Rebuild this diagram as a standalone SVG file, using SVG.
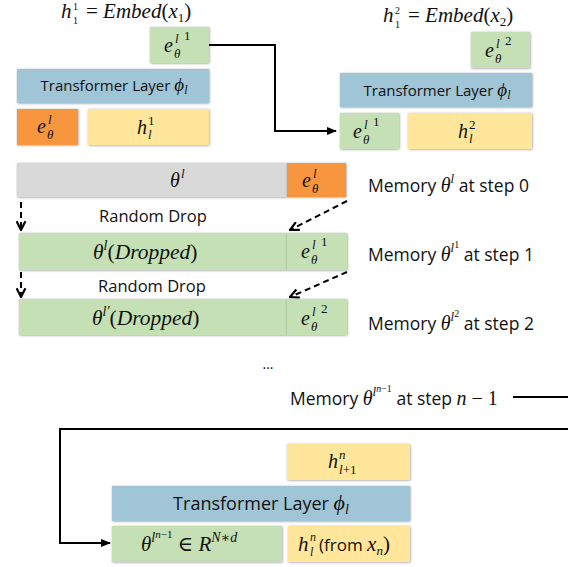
<svg xmlns="http://www.w3.org/2000/svg" width="568" height="567" viewBox="0 0 568 567">
<defs>
<filter id="sh" x="-10%" y="-20%" width="120%" height="140%"><feDropShadow dx="0.5" dy="0.5" stdDeviation="1.2" flood-color="#000" flood-opacity="0.4"/></filter>
<marker id="ah" viewBox="0 0 10 10" refX="9" refY="5" markerWidth="5" markerHeight="5" orient="auto"><path d="M0,1 L10,5 L0,9 z" fill="#000"/></marker>
<marker id="ch" viewBox="0 0 10 10" refX="9" refY="5" markerWidth="5.5" markerHeight="5.5" orient="auto"><path d="M1,1 L9,5 L1,9" fill="none" stroke="#000" stroke-width="2"/></marker>
</defs>
<style>
.bx{filter:url(#sh)}
.g{fill:#c5e0b4}.b{fill:#9fc5d6}.o{fill:#f8963f}.y{fill:#ffe69a}.gr{fill:#d9d9d9}
.t{font-family:"Open Sans","Liberation Sans",sans-serif;fill:#111}
.m{font-family:"Liberation Serif","DejaVu Serif",serif;font-style:italic;fill:#111}
.n{font-family:"Liberation Serif","DejaVu Serif",serif;font-style:normal;fill:#111}
.c{fill:none;stroke:#000;stroke-width:2}
.d{fill:none;stroke:#000;stroke-width:2;stroke-dasharray:6 4}
</style>

<g id="connectors">
<path class="c" d="M209,45 H275 V131 H336" marker-end="url(#ah)"/>
<path class="c" d="M568,429 H60 V543 H110" marker-end="url(#ah)"/>
<path class="c" d="M513,397 H568"/>
<path class="d" d="M21,202 V230" marker-end="url(#ch)"/>
<path class="d" d="M21,272 V297" marker-end="url(#ch)"/>
<path class="d" d="M347,201 L290,230" marker-end="url(#ch)"/>
<path class="d" d="M347,272 L290,297" marker-end="url(#ch)"/>
</g>

<g id="eq1">
<text class="m" x="61" y="18" font-size="21">h</text>
<text class="n" x="73" y="10" font-size="10">1</text>
<text class="n" x="73" y="24" font-size="10">1</text>
<text class="m" x="86" y="18" font-size="21"><tspan class="n">= </tspan>Embed<tspan class="n">(</tspan>x<tspan class="n" font-size="13" dy="4">1</tspan><tspan class="n" dy="-4">)</tspan></text>
</g>
<g id="eq2">
<text class="m" x="383" y="22" font-size="21">h</text>
<text class="n" x="395" y="14" font-size="10">2</text>
<text class="n" x="395" y="28" font-size="10">1</text>
<text class="m" x="408" y="22" font-size="21"><tspan class="n">= </tspan>Embed<tspan class="n">(</tspan>x<tspan class="n" font-size="13" dy="4">2</tspan><tspan class="n" dy="-4">)</tspan></text>
</g>

<!-- Step 1 block -->
<g id="e1out">
<rect class="bx g" x="150" y="27" width="59" height="36"/>
<g transform="translate(164,52)"><text class="m" font-size="20">e</text><text class="m" font-size="13" x="11" y="-9">l</text><text class="m" font-size="13" x="10" y="6">θ</text><text class="n" font-size="13" x="20" y="-12">1</text></g>
</g>
<g id="tl1">
<rect class="bx b" x="17" y="69" width="192" height="34"/>
<text class="t" x="114" y="91" font-size="15" text-anchor="middle">Transformer Layer <tspan class="m" font-size="19">ϕ</tspan><tspan class="m" font-size="12" dy="3">l</tspan></text>
</g>
<g id="e1in">
<rect class="bx o" x="17" y="109" width="61" height="36"/>
<g transform="translate(37,133)"><text class="m" font-size="20">e</text><text class="m" font-size="13" x="11" y="-9">l</text><text class="m" font-size="13" x="10" y="6">θ</text></g>
</g>
<g id="h1">
<rect class="bx y" x="88" y="109" width="121" height="36"/>
<g transform="translate(137,134)"><text class="m" font-size="20">h</text><text class="n" font-size="13" x="11" y="-9">1</text><text class="m" font-size="13" x="11" y="5">l</text></g>
</g>

<!-- Step 2 block -->
<g id="e2out">
<rect class="bx g" x="471" y="32" width="59" height="36"/>
<g transform="translate(485,57)"><text class="m" font-size="20">e</text><text class="m" font-size="13" x="11" y="-9">l</text><text class="m" font-size="13" x="10" y="6">θ</text><text class="n" font-size="13" x="20" y="-12">2</text></g>
</g>
<g id="tl2">
<rect class="bx b" x="340" y="73" width="192" height="34"/>
<text class="t" x="437" y="96" font-size="15" text-anchor="middle">Transformer Layer <tspan class="m" font-size="19">ϕ</tspan><tspan class="m" font-size="12" dy="3">l</tspan></text>
</g>
<g id="e2in">
<rect class="bx g" x="340" y="113" width="59" height="36"/>
<g transform="translate(353,138)"><text class="m" font-size="20">e</text><text class="m" font-size="13" x="11" y="-9">l</text><text class="m" font-size="13" x="10" y="6">θ</text><text class="n" font-size="13" x="20" y="-12">1</text></g>
</g>
<g id="h2">
<rect class="bx y" x="408" y="113" width="124" height="36"/>
<g transform="translate(458,138)"><text class="m" font-size="20">h</text><text class="n" font-size="13" x="11" y="-9">2</text><text class="m" font-size="13" x="11" y="5">l</text></g>
</g>

<!-- Memory rows -->
<g id="mem0">
<rect class="bx gr" x="17" y="163" width="270" height="34"/>
<g transform="translate(170,187)"><text class="m" font-size="20">θ</text><text class="m" font-size="13" x="11" y="-9">l</text></g>
<rect class="bx o" x="287" y="163" width="59" height="34"/>
<g transform="translate(302,187)"><text class="m" font-size="20">e</text><text class="m" font-size="13" x="11" y="-9">l</text><text class="m" font-size="13" x="10" y="6">θ</text></g>
</g>
<text class="t" x="368" y="192" font-size="17.5">Memory <tspan class="m" font-size="20">θ</tspan><tspan class="m" font-size="13" dy="-9">l</tspan><tspan dy="9"> at step 0</tspan></text>
<text class="t" x="153" y="222" font-size="16.5" text-anchor="middle">Random Drop</text>

<g id="mem1">
<rect class="bx g" x="19" y="233" width="268" height="37"/>
<text class="m" x="93" y="259" font-size="21.5">θ<tspan font-size="14" dy="-9">l</tspan><tspan class="n" dy="9">(</tspan>Dropped<tspan class="n">)</tspan></text>
<rect class="bx g" x="287" y="233" width="60" height="37"/>
<g transform="translate(301,258)"><text class="m" font-size="20">e</text><text class="m" font-size="13" x="11" y="-9">l</text><text class="m" font-size="13" x="10" y="6">θ</text><text class="n" font-size="13" x="20" y="-12">1</text></g>
</g>
<text class="t" x="368" y="261" font-size="17.5">Memory <tspan class="m" font-size="20">θ</tspan><tspan class="m" font-size="13" dy="-9">l</tspan><tspan class="n" font-size="10" dy="-4">1</tspan><tspan dy="13"> at step 1</tspan></text>
<text class="t" x="152" y="292" font-size="16.5" text-anchor="middle">Random Drop</text>

<g id="mem2">
<rect class="bx g" x="19" y="299" width="268" height="36"/>
<text class="m" x="92" y="325" font-size="21.5">θ<tspan font-size="14" dy="-9">l′</tspan><tspan class="n" dy="9">(</tspan>Dropped<tspan class="n">)</tspan></text>
<rect class="bx g" x="287" y="299" width="60" height="36"/>
<g transform="translate(301,325)"><text class="m" font-size="20">e</text><text class="m" font-size="13" x="11" y="-9">l</text><text class="m" font-size="13" x="10" y="6">θ</text><text class="n" font-size="13" x="20" y="-12">2</text></g>
</g>
<text class="t" x="368" y="330" font-size="17.5">Memory <tspan class="m" font-size="20">θ</tspan><tspan class="m" font-size="13" dy="-9">l</tspan><tspan class="n" font-size="10" dy="-4">2</tspan><tspan dy="13"> at step 2</tspan></text>

<text class="t" x="268" y="369" font-size="14" text-anchor="middle">...</text>
<text class="t" x="290" y="405" font-size="17.5">Memory <tspan class="m" font-size="20">θ</tspan><tspan class="m" font-size="13" dy="-9">l</tspan><tspan class="m" font-size="10" dy="-4">n</tspan><tspan class="n" font-size="10">−1</tspan><tspan dy="13"> at step </tspan><tspan class="m" font-size="20">n</tspan><tspan class="n" font-size="20"> − 1</tspan></text>

<!-- Step n block -->
<g id="hn1">
<rect class="bx y" x="287" y="444" width="123" height="36"/>
<g transform="translate(328,468)"><text class="m" font-size="20">h</text><text class="m" font-size="13" x="11" y="-9">n</text><text class="m" font-size="13" x="11" y="6">l<tspan class="n">+1</tspan></text></g>
</g>
<g id="tln">
<rect class="bx b" x="112" y="486" width="298" height="35"/>
<text class="t" x="261" y="510" font-size="18" text-anchor="middle">Transformer Layer <tspan class="m" font-size="22">ϕ</tspan><tspan class="m" font-size="14" dy="4">l</tspan></text>
</g>
<g id="thn">
<rect class="bx g" x="112" y="526" width="170" height="36"/>
<text class="m" x="141" y="551" font-size="21">θ<tspan font-size="14" dy="-9">l</tspan><tspan font-size="11" dy="-4">n</tspan><tspan class="n" font-size="11">−1</tspan><tspan class="n" dy="13"> ∈ </tspan>R<tspan font-size="14" dy="-9">N</tspan><tspan class="n" font-size="14">∗</tspan><tspan font-size="14">d</tspan></text>
</g>
<g id="hn">
<rect class="bx y" x="288" y="526" width="122" height="36"/>
<text class="m" x="298" y="551" font-size="21">h</text>
<text class="m" x="310" y="541" font-size="12">n</text>
<text class="m" x="310" y="556" font-size="12">l</text>
<text class="t" x="319" y="551" font-size="17">(from <tspan class="m" font-size="21">x</tspan><tspan class="m" font-size="13" dy="4">n</tspan><tspan class="n" font-size="21" dy="-4">)</tspan></text>
</g>
</svg>
